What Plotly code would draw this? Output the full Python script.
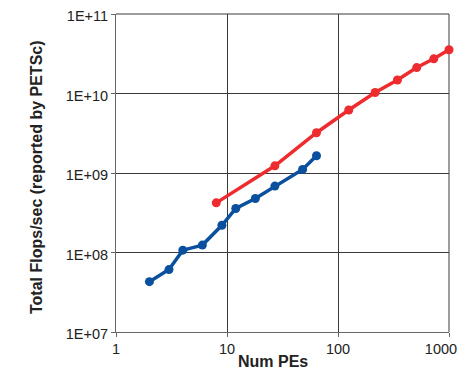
import plotly.graph_objects as go

blue_pes = [2, 3, 4, 6, 9, 12, 18, 27, 48, 64]
blue_flops = [4.3e7, 6.1e7, 1.07e8, 1.24e8, 2.2e8, 3.58e8, 4.78e8, 6.84e8, 1.11e9, 1.65e9]
red_pes = [8, 27, 64, 125, 216, 343, 512, 729, 1000]
red_flops = [4.21e8, 1.23e9, 3.21e9, 6.21e9, 1.03e10, 1.48e10, 2.12e10, 2.73e10, 3.55e10]

x_tickvals = [1, 10, 100, 1000]
x_ticktext = ["1", "10", "100", "1000\u00a0\u00a0\u00a0\u00a0"]
y_tickvals = [1e7, 1e8, 1e9, 1e10, 1e11]
y_ticktext = ["1E+07", "1E+08", "1E+09", "1E+10", "1E+11"]

fig = go.Figure()
fig.add_trace(go.Scatter(x=red_pes, y=red_flops, mode="lines+markers",
                         line=dict(color="#EE2B2E", width=3.5),
                         marker=dict(color="#EE2B2E", size=9), showlegend=False,
                         cliponaxis=False))
fig.add_trace(go.Scatter(x=blue_pes, y=blue_flops, mode="lines+markers",
                         line=dict(color="#0A509E", width=3.5),
                         marker=dict(color="#0A509E", size=9), showlegend=False,
                         cliponaxis=False))

font = "Liberation Sans, Arial, Helvetica, sans-serif"
grid = "#3a3a3a"
fig.update_layout(
    width=451, height=362,
    margin=dict(l=108, r=10, t=6, b=38),
    paper_bgcolor="white", plot_bgcolor="white",
    font=dict(family=font, size=14.5, color="#222"),
    shapes=[
        dict(type="line", xref="paper", yref="paper", x0=0, x1=1, y0=1, y1=1,
             line=dict(color=grid, width=1), layer="below"),
        dict(type="line", xref="paper", yref="paper", x0=1, x1=1, y0=0, y1=1,
             line=dict(color=grid, width=1), layer="below"),
    ],
    annotations=[
        dict(text="<b>Num PEs</b>", xref="paper", yref="paper", x=0.471, y=0,
             yshift=-29, xanchor="center", yanchor="middle", showarrow=False,
             font=dict(size=16, family=font, color="#222")),
        dict(text="<b>Total Flops/sec (reported by PETSc)</b>", xref="paper", yref="paper",
             x=0, y=0.5, xshift=-80, yshift=-4, textangle=-90, xanchor="center", yanchor="middle",
             showarrow=False, font=dict(size=16, family=font, color="#222")),
    ],
)
fig.update_xaxes(type="log", range=[0, 3], tickvals=x_tickvals, ticktext=x_ticktext,
                 showgrid=True, gridcolor=grid, gridwidth=1,
                 showline=True, linecolor="#666", linewidth=1, mirror=False,
                 ticks="outside", ticklen=4, tickcolor="#666",
                 ticklabeloverflow="allow",
                 automargin=False, zeroline=False)
fig.update_yaxes(type="log", range=[7, 11], tickvals=y_tickvals, ticktext=y_ticktext,
                 showgrid=True, gridcolor=grid, gridwidth=1,
                 showline=True, linecolor="#666", linewidth=1,
                 ticks="outside", ticklen=4, tickcolor="#666",
                 ticklabeloverflow="allow", ticklabelshift=2,
                 automargin=False, zeroline=False)

fig.write_html("out.html")
